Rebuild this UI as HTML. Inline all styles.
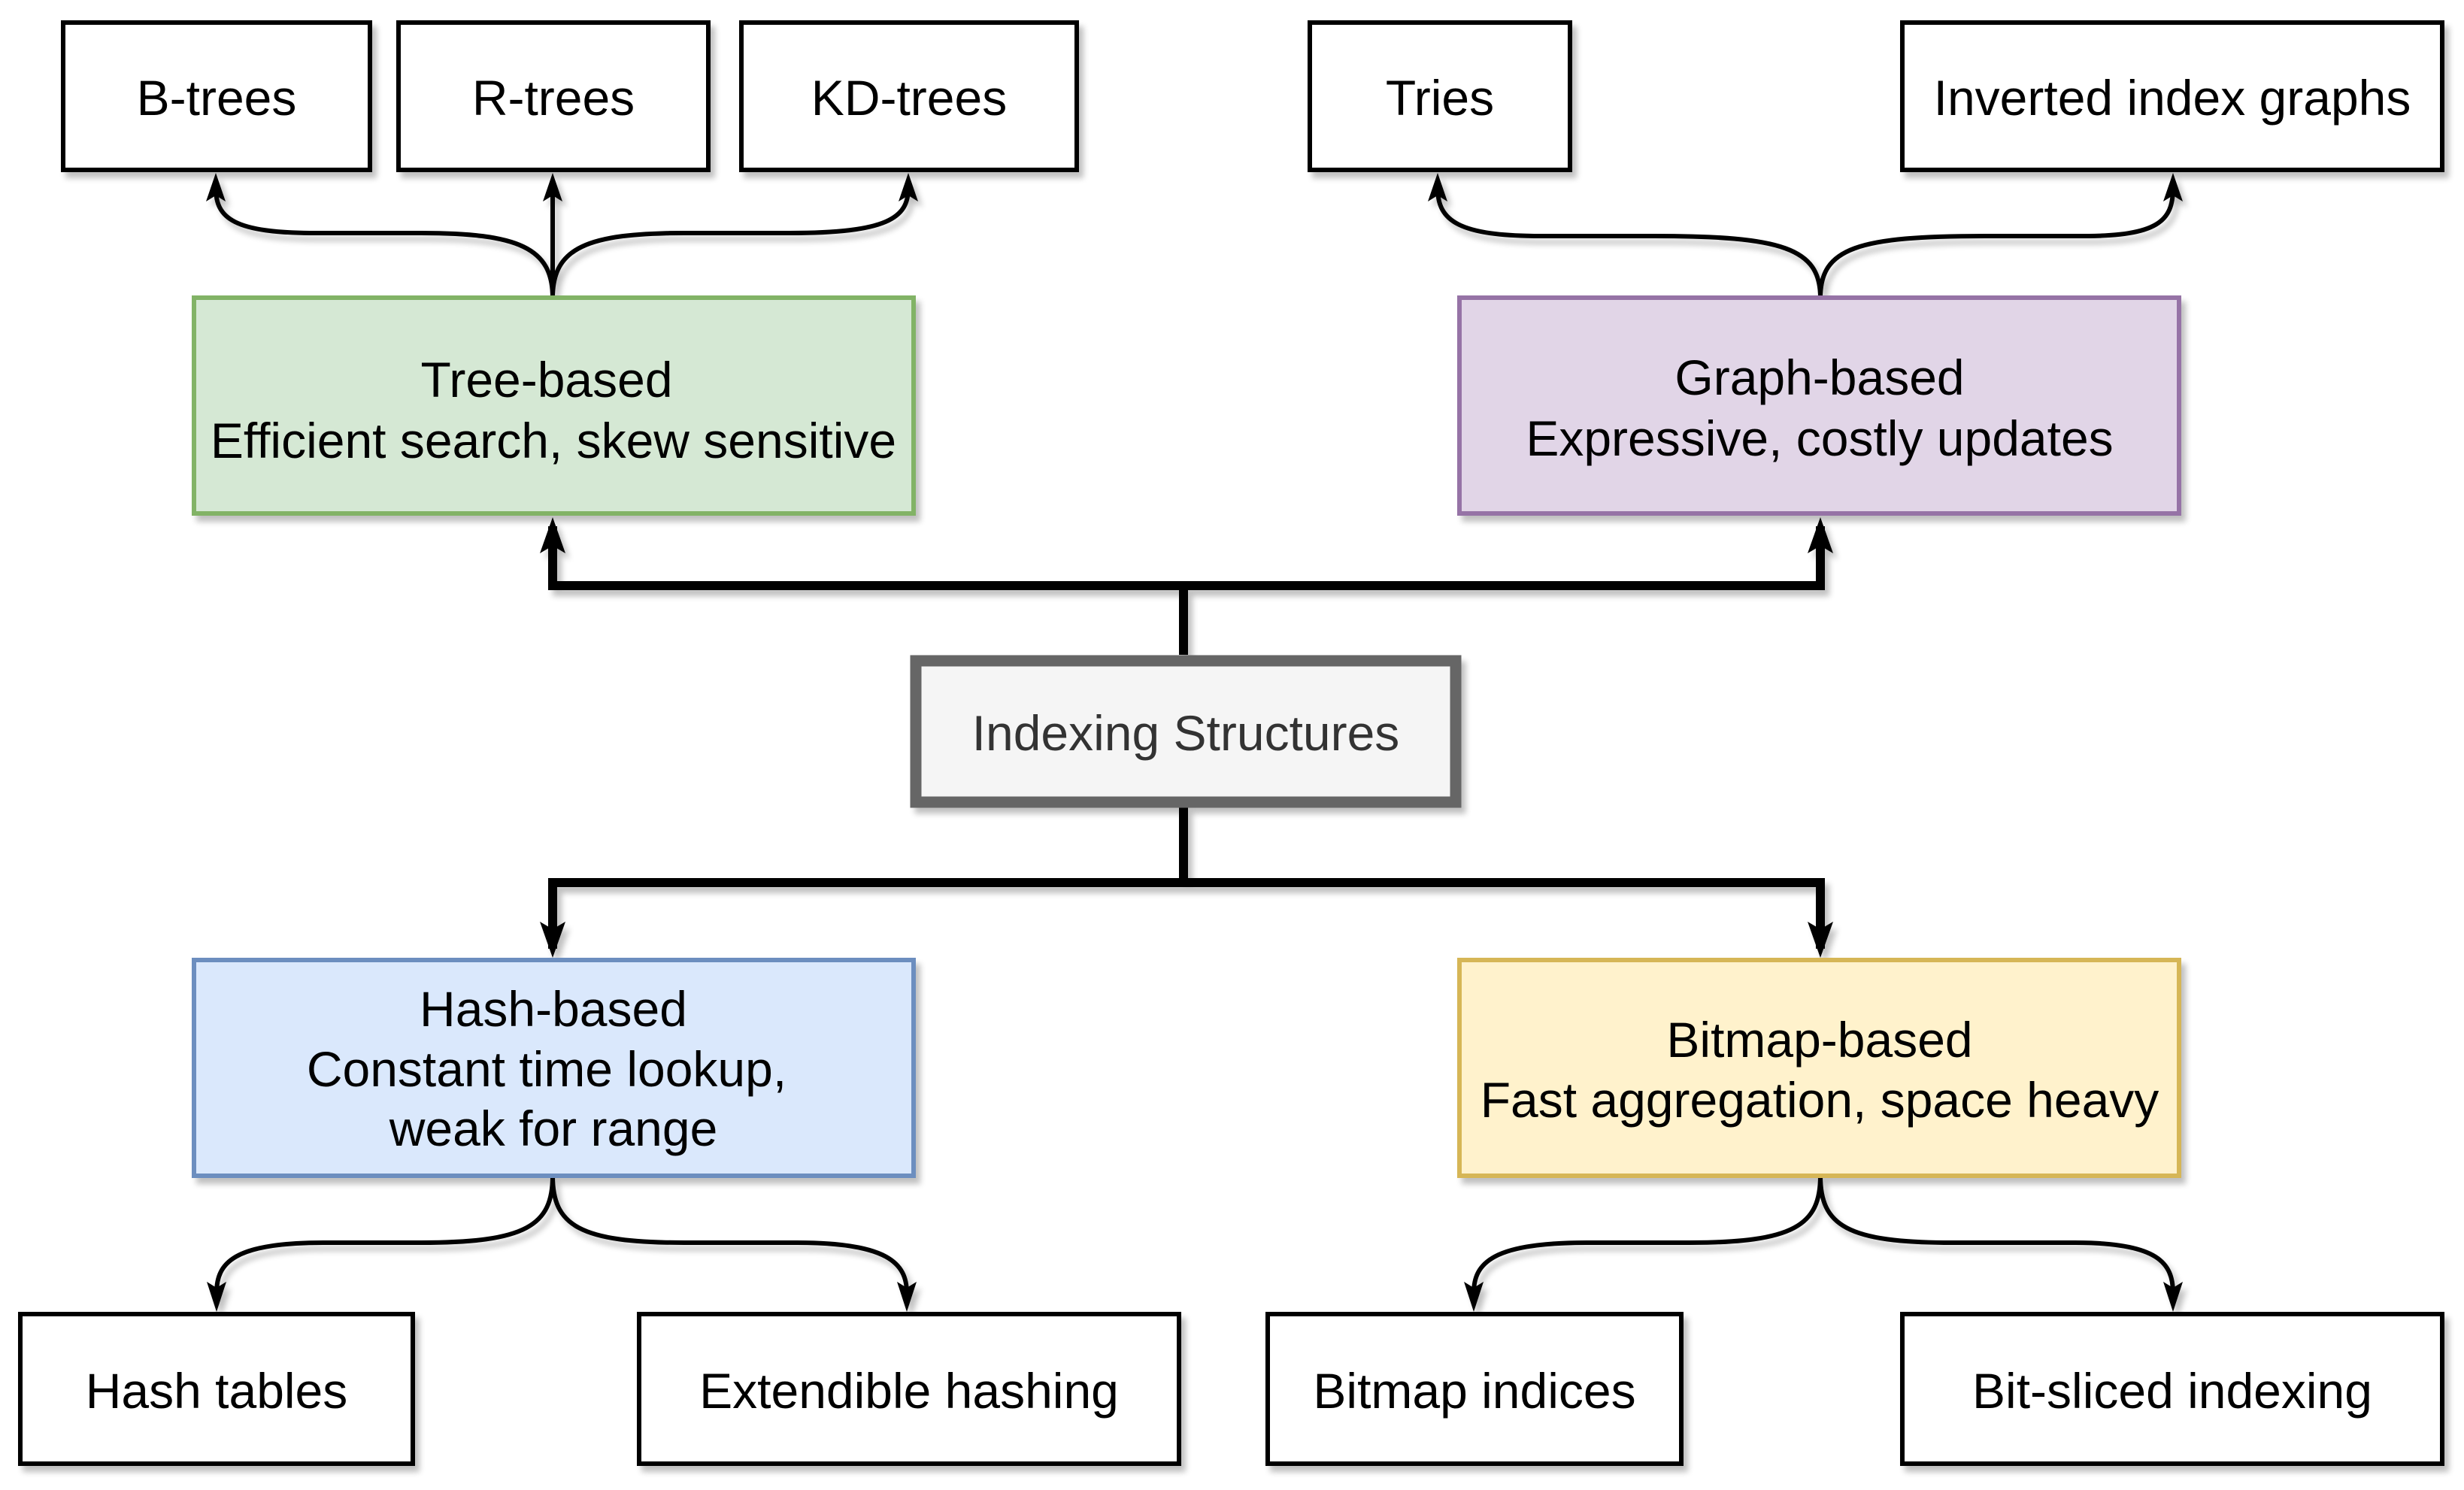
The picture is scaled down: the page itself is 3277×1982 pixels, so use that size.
<!DOCTYPE html>
<html><head><meta charset="utf-8"><style>
html,body{margin:0;padding:0;background:#fff;}
svg{display:block;}
text{font-family:"Liberation Sans",Arial,sans-serif;}
</style></head><body>
<svg width="3277" height="1982" viewBox="0 0 3277 1982" xmlns="http://www.w3.org/2000/svg">
<defs>
<filter id="sh" x="-10%" y="-10%" width="130%" height="140%">
<feGaussianBlur in="SourceAlpha" stdDeviation="4"/>
<feOffset dx="6" dy="8" result="b"/>
<feComponentTransfer><feFuncA type="linear" slope="0.25"/></feComponentTransfer>
<feMerge><feMergeNode/><feMergeNode in="SourceGraphic"/></feMerge>
</filter>
</defs>
<g filter="url(#sh)">
<g stroke="#000" stroke-width="12" fill="none" stroke-linejoin="miter">
<path d="M1574,871 L1574,779 L735,779 L735,700"/>
<path d="M1574,779 L2421,779 L2421,700"/>
<path d="M1574,1074 L1574,1174 L735,1174 L735,1262"/>
<path d="M1574,1174 L2421,1174 L2421,1262"/>
</g>
<g fill="#000">
<path d="M735,688 L752,736 L735,726 L718,736 Z"/>
<path d="M2421,688 L2438,736 L2421,726 L2404,736 Z"/>
<path d="M735,1274 L752,1226 L735,1236 L718,1226 Z"/>
<path d="M2421,1274 L2438,1226 L2421,1236 L2404,1226 Z"/>
</g>
<g stroke="#000" stroke-width="6" fill="none">
<path d="M735,396 C735,330 690,310 560,310 L420,310 C310,310 287,290 287,250"/>
<path d="M735,396 L735,250"/>
<path d="M735,396 C735,330 780,310 910,310 L1050,310 C1180,310 1208,290 1208,250"/>
<path d="M2421,396 C2421,330 2370,314 2200,314 L2050,314 C1940,314 1912,294 1912,250"/>
<path d="M2421,396 C2421,330 2470,314 2640,314 L2770,314 C2870,314 2890,294 2890,250"/>
<path d="M735,1564 C735,1630 700,1653 560,1653 L430,1653 C310,1653 288,1680 288,1720"/>
<path d="M735,1564 C735,1630 770,1653 910,1653 L1060,1653 C1180,1653 1206,1680 1206,1720"/>
<path d="M2421,1564 C2421,1630 2386,1653 2246,1653 L2110,1653 C1985,1653 1960,1680 1960,1720"/>
<path d="M2421,1564 C2421,1630 2456,1653 2596,1653 L2760,1653 C2870,1653 2890,1680 2890,1720"/>
</g>
<g fill="#000">
<path d="M287,230 L300,268 L287,260 L274,268 Z"/>
<path d="M735,230 L748,268 L735,260 L722,268 Z"/>
<path d="M1208,230 L1221,268 L1208,260 L1195,268 Z"/>
<path d="M1912,230 L1925,268 L1912,260 L1899,268 Z"/>
<path d="M2890,230 L2903,268 L2890,260 L2877,268 Z"/>
<path d="M288,1745 L301,1705 L288,1713 L275,1705 Z"/>
<path d="M1206,1745 L1219,1705 L1206,1713 L1193,1705 Z"/>
<path d="M1960,1745 L1973,1705 L1960,1713 L1947,1705 Z"/>
<path d="M2890,1745 L2903,1705 L2890,1713 L2877,1705 Z"/>
</g>
<g fill="#fff" stroke="#000" stroke-width="6">
<rect x="84" y="30" width="408" height="196"/>
<rect x="530" y="30" width="412" height="196"/>
<rect x="986" y="30" width="446" height="196"/>
<rect x="1742" y="30" width="346" height="196"/>
<rect x="2530" y="30" width="718" height="196"/>
<rect x="27" y="1748" width="522" height="199"/>
<rect x="850" y="1748" width="718" height="199"/>
<rect x="1686" y="1748" width="550" height="199"/>
<rect x="2530" y="1748" width="718" height="199"/>
</g>
<rect x="258" y="396" width="957" height="287" fill="#d5e8d4" stroke="#82b366" stroke-width="6"/>
<rect x="1941" y="396" width="957" height="287" fill="#e1d5e7" stroke="#9673a6" stroke-width="6"/>
<rect x="258" y="1277" width="957" height="287" fill="#dae8fc" stroke="#6c8ebf" stroke-width="6"/>
<rect x="1941" y="1277" width="957" height="287" fill="#fff2cc" stroke="#d6b656" stroke-width="6"/>
<rect x="1218" y="879" width="718" height="188" fill="#f5f5f5" stroke="#666" stroke-width="15"/>
</g>
<g font-size="66" text-anchor="middle" fill="#000">
<text x="288" y="153">B-trees</text>
<text x="736" y="153">R-trees</text>
<text x="1209" y="153">KD-trees</text>
<text x="1915" y="153">Tries</text>
<text x="2889" y="153">Inverted index graphs</text>
<text x="288" y="1873">Hash tables</text>
<text x="1209" y="1873">Extendible hashing</text>
<text x="1961" y="1873">Bitmap indices</text>
<text x="2889" y="1873">Bit-sliced indexing</text>
<text x="727" y="528">Tree-based</text>
<text x="736" y="609">Efficient search, skew sensitive</text>
<text x="2420" y="525">Graph-based</text>
<text x="2420" y="606">Expressive, costly updates</text>
<text x="736" y="1365">Hash-based</text>
<text x="727" y="1445">Constant time lookup,</text>
<text x="736" y="1524">weak for range</text>
<text x="2420" y="1406">Bitmap-based</text>
<text x="2420" y="1486">Fast aggregation, space heavy</text>
<text x="1577" y="998" fill="#333">Indexing Structures</text>
</g>
</svg>
</body></html>
